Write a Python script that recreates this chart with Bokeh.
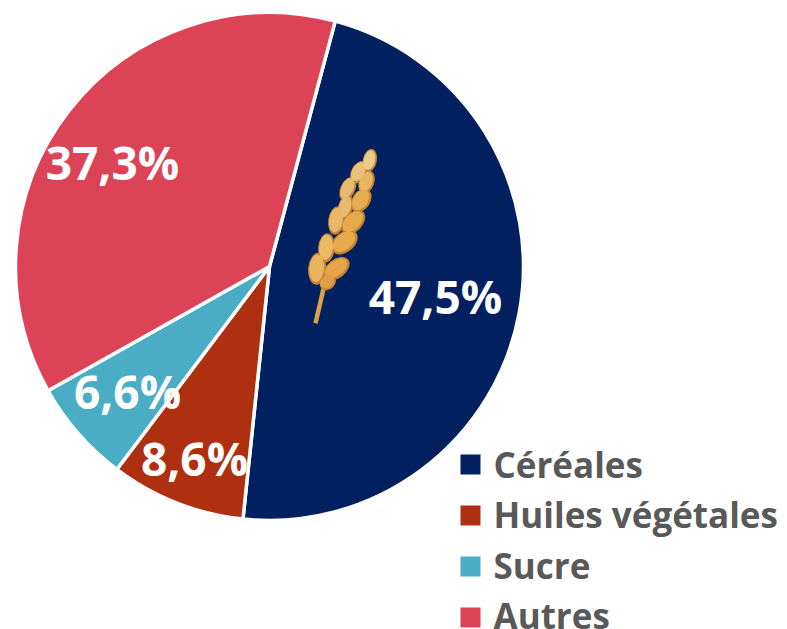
import numpy as np
from bokeh.plotting import figure
from bokeh.models import Range1d
from bokeh.core.properties import value
from bokeh.embed import file_html
from bokeh.resources import INLINE

W, H = 787, 629
categories = ["Céréales", "Huiles végétales", "Sucre", "Autres"]
shares = [47.5, 8.6, 6.6, 37.3]
labels = ["47,5%", "8,6%", "6,6%", "37,3%"]
colors = ["#002060", "#AE3010", "#4BACC6", "#DC4356"]
label_px = [(435, 295), (194, 457), (127, 390), (112, 161)]
CX, CY, R = 269, 266, 254
START_DEG = 15

def Y(py):
    return H - np.asarray(py, dtype=float)

p = figure(width=W, height=H, output_backend="svg", toolbar_location=None,
           x_range=Range1d(0, W), y_range=Range1d(0, H), min_border=0,
           outline_line_color=None, background_fill_color="white", border_fill_color="white")
p.axis.visible = False
p.grid.visible = False

cum = np.cumsum([0] + shares) / sum(shares) * 2 * np.pi
start0 = np.pi / 2 - np.radians(START_DEG)
p.wedge(x=[CX] * 4, y=[Y(CY)] * 4, radius=R,
        start_angle=list(start0 - cum[1:]), end_angle=list(start0 - cum[:-1]),
        fill_color=colors, line_color="white", line_width=3.5)

# wheat ear (decoration), in zoomed-crop coordinates
def zx(v): return 290 + np.asarray(v, dtype=float) / 3
def zy(v): return Y(140 + np.asarray(v, dtype=float) / 3)

p.line(zx([75, 100]), zy([548, 440]), line_color="#DDA04A", line_width=4.5)
grains = [
    (238, 60, 42, 70, -12, "#EBCB8A"), (205, 95, 46, 72, -28, "#E8C27C"),
    (228, 125, 46, 72, -20, "#E6B562"), (172, 145, 44, 76, -25, "#E6BA70"),
    (212, 180, 54, 78, -34, "#E6AC50"), (165, 200, 44, 76, -15, "#E6BA70"),
    (188, 245, 56, 86, -44, "#E6A94C"), (138, 240, 50, 86, -8, "#E8B868"),
    (162, 305, 60, 90, -50, "#E6A94C"), (108, 322, 50, 88, -5, "#EAB866"),
    (138, 385, 56, 90, -52, "#E5A448"), (80, 385, 54, 96, -5, "#E9B460"),
    (112, 425, 44, 54, -45, "#DF9E44"),
]
gx, gy, gw, gh, ga, gc = zip(*grains)
p.ellipse(zx(gx), zy(gy), width=[v / 3 for v in gw], height=[v / 3 for v in gh],
          angle=list(np.radians(ga)), fill_color="#C48430", line_color=None)
p.ellipse(zx(gx) - 0.5, zy(gy) + 0.5, width=[v / 3 * 0.82 for v in gw], height=[v / 3 * 0.86 for v in gh],
          angle=list(np.radians(ga)), fill_color=list(gc), line_color=None)

p.text(x=[a for a, _ in label_px], y=[Y(b) for _, b in label_px], text=labels,
       text_font=value("Open Sans"), text_font_style="bold", text_font_size="46px",
       text_color="white", text_align="center", text_baseline="alphabetic")

leg_box = [464, 515, 566, 617]
leg_base = [464, 514, 565, 615]
p.rect(x=[470] * 4, y=list(Y(leg_box)), width=20, height=20, fill_color=colors, line_color=None)
p.text(x=[493] * 4, y=list(Y(leg_base)), text=categories,
       text_font=value("Open Sans"), text_font_style="bold", text_font_size="35px",
       text_color="#595959", text_align="left", text_baseline="alphabetic")

open("out.html", "w").write(file_html(p, INLINE))
